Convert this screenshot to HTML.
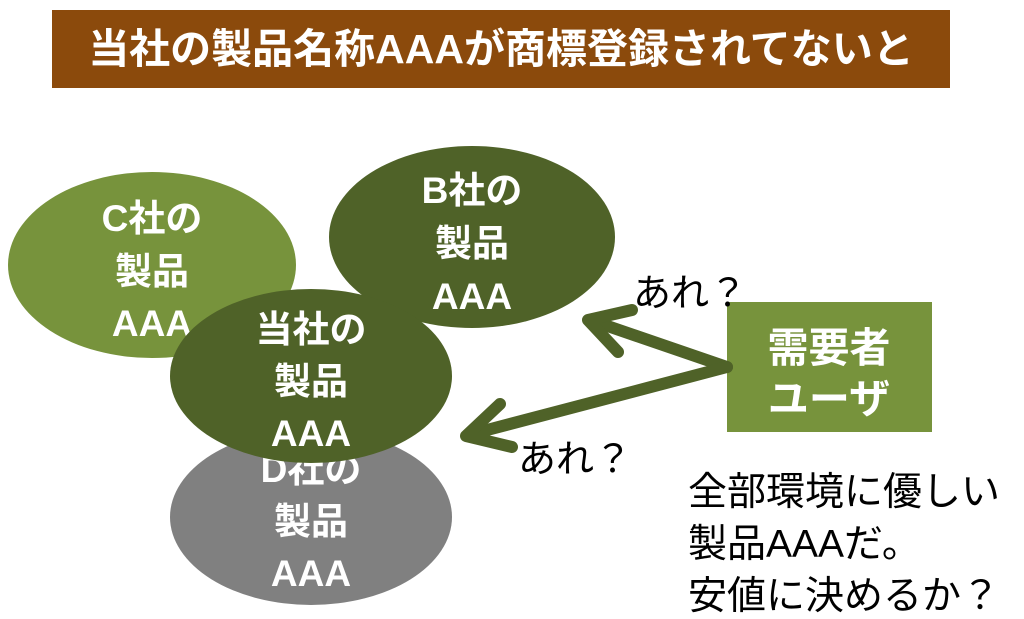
<!DOCTYPE html>
<html><head><meta charset="utf-8"><style>
body{margin:0;width:1024px;height:619px;background:#fff;overflow:hidden;position:relative;font-family:"Liberation Sans","Noto Sans CJK JP",sans-serif}
.t{position:absolute;white-space:nowrap}
</style></head><body>
<div style="position:absolute;left:52px;top:10px;width:898px;height:78px;background:#8B4A0C"></div>
<div class="t" style="left:52px;top:10px;width:898px;height:78px;line-height:78px;text-align:center;color:#fff;font-size:41px;font-weight:bold">当社の製品名称AAAが商標登録されてないと</div>
<svg width="1024" height="619" style="position:absolute;left:0;top:0">
<ellipse cx="311" cy="517" rx="141" ry="88" fill="#808080"/>
<ellipse cx="152" cy="265" rx="144" ry="93" fill="#77933C"/>
<ellipse cx="472" cy="237" rx="143" ry="91" fill="#4F6228"/>
<rect x="727" y="302" width="205" height="130" fill="#77933C"/>
<g stroke="#4F6228" stroke-width="12" fill="none" stroke-linecap="round" stroke-linejoin="round">
<line x1="727" y1="367" x2="590" y2="320"/>
<polyline points="632,310 588,320 618,352"/>
<line x1="727" y1="367" x2="468" y2="435"/>
<polyline points="500,404 466,436 512,447"/>
</g>
<g fill="#fff" font-size="37" font-weight="bold" text-anchor="middle" font-family="Liberation Sans, Noto Sans CJK JP, sans-serif">
<text x="152" y="231">C社の</text><text x="152" y="284">製品</text><text x="152" y="336">AAA</text>
<text x="472" y="203">B社の</text><text x="472" y="256">製品</text><text x="472" y="309">AAA</text>
<text x="311" y="482">D社の</text><text x="311" y="534">製品</text><text x="311" y="586">AAA</text>
</g>
<ellipse cx="311" cy="376" rx="141" ry="87" fill="#4F6228"/>
<g fill="#fff" font-size="37" font-weight="bold" text-anchor="middle" font-family="Liberation Sans, Noto Sans CJK JP, sans-serif">
<text x="311" y="342">当社の</text><text x="311" y="394">製品</text><text x="311" y="446">AAA</text>
<text x="829" y="362" font-size="41">需要者</text><text x="829" y="413" font-size="41">ユーザ</text>
</g>
<g fill="#000" font-size="38" font-family="Liberation Sans, Noto Sans CJK JP, sans-serif">
<text x="633" y="306">あれ？</text>
<text x="518" y="472">あれ？</text>
<text x="688" y="505" font-size="39">全部環境に優しい</text>
<text x="688" y="557" font-size="39">製品AAAだ。</text>
<text x="688" y="609" font-size="39">安値に決めるか？</text>
</g>
</svg>
</body></html>
